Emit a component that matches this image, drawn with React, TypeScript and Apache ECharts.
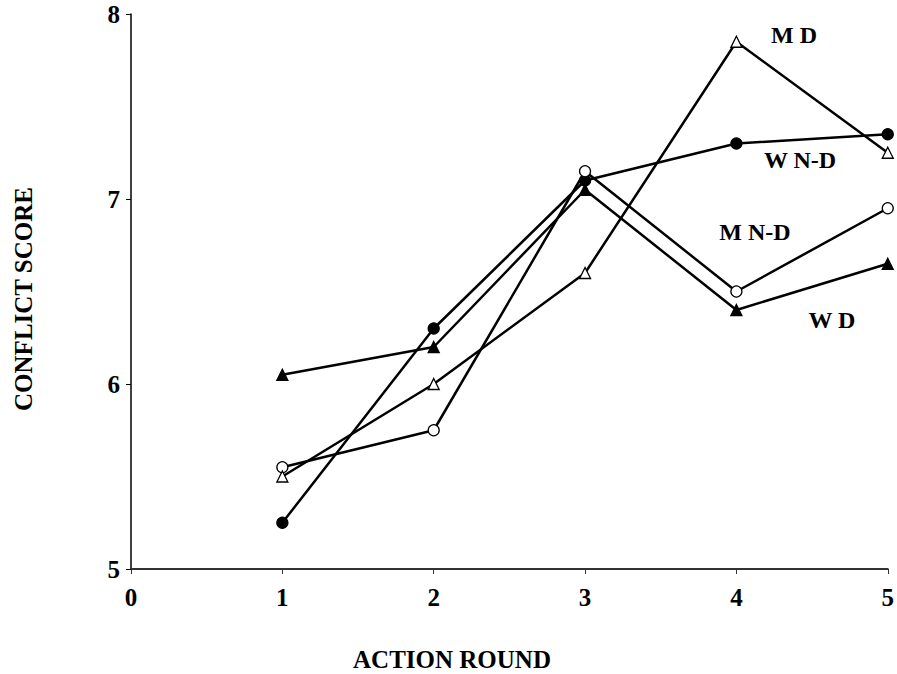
import React, { useEffect, useRef } from "react";
import * as echarts from "echarts";

const rounds = [1, 2, 3, 4, 5];
const wndValues = [5.25, 6.3, 7.1, 7.3, 7.35]; // W N-D filled circle
const mndValues = [5.55, 5.75, 7.15, 6.5, 6.95]; // M N-D open circle
const wdValues = [6.05, 6.2, 7.05, 6.4, 6.65]; // W D filled triangle
const mdValues = [5.5, 6.0, 6.6, 7.85, 7.25]; // M D open triangle
const xTicks = [0, 1, 2, 3, 4, 5];
const yTicks = [5, 6, 7, 8];

const FONT = "'Liberation Serif', 'Times New Roman', serif";

function mkSeries(name: string, values: number[], symbol: string, filled: boolean) {
  return {
    name,
    type: "line",
    data: rounds.map((r, i) => [r, values[i]]),
    symbol,
    symbolSize: 11,
    lineStyle: { color: "#000", width: 2.5 },
    itemStyle: {
      color: filled ? "#000" : "#fff",
      borderColor: "#000",
      borderWidth: 1.3,
    },
    z: 3,
  };
}

const labelStyle = (text: string) => ({
  text,
  fontFamily: FONT,
  fontWeight: "bold",
  fontSize: 24,
  fill: "#000",
  align: "center",
  verticalAlign: "middle",
});

export default function App() {
  const ref = useRef<HTMLDivElement>(null);
  useEffect(() => {
    if (!ref.current) return;
    const chart = echarts.init(ref.current, undefined, { renderer: "svg" });
    chart.setOption({
      animation: false,
      backgroundColor: "#fff",
      grid: { left: 131, right: 8, top: 14, bottom: 105 },
      xAxis: {
        type: "value",
        min: xTicks[0],
        max: xTicks[xTicks.length - 1],
        interval: 1,
        axisLine: { show: true, onZero: false, lineStyle: { color: "#333", width: 2 } },
        axisTick: { show: true, length: 5, lineStyle: { color: "#333", width: 1 } },
        axisLabel: { fontFamily: FONT, fontWeight: "bold", fontSize: 25, color: "#000", margin: 16 },
        splitLine: { show: false },
      },
      yAxis: {
        type: "value",
        min: yTicks[0],
        max: yTicks[yTicks.length - 1],
        interval: 1,
        axisLine: { show: true, onZero: false, lineStyle: { color: "#000", width: 1.5 } },
        axisTick: { show: true, length: 5, lineStyle: { color: "#000", width: 1 } },
        axisLabel: {
          fontFamily: FONT,
          fontWeight: "bold",
          fontSize: 25,
          color: "#000",
          margin: 11,
          padding: [7, 0, 0, 0],
        },
        splitLine: { show: false },
      },
      series: [
        mkSeries("W N-D", wndValues, "circle", true),
        mkSeries("M N-D", mndValues, "circle", false),
        mkSeries("W D", wdValues, "triangle", true),
        mkSeries("M D", mdValues, "triangle", false),
      ],
      graphic: [
        {
          type: "text",
          x: 23,
          y: 299,
          rotation: Math.PI / 2,
          style: { ...labelStyle("CONFLICT SCORE"), fontSize: 25 },
        },
        {
          type: "text",
          x: 452,
          y: 659,
          style: { ...labelStyle("ACTION ROUND"), fontSize: 25 },
        },
        { type: "text", x: 794, y: 35, style: labelStyle("M D") },
        { type: "text", x: 800, y: 160, style: labelStyle("W N-D") },
        { type: "text", x: 755, y: 232, style: labelStyle("M N-D") },
        { type: "text", x: 832, y: 320, style: labelStyle("W D") },
      ],
    });
    return () => chart.dispose();
  }, []);
  return <div ref={ref} style={{ width: 897, height: 674, position: "absolute", left: 0, top: 0 }} />;
}
